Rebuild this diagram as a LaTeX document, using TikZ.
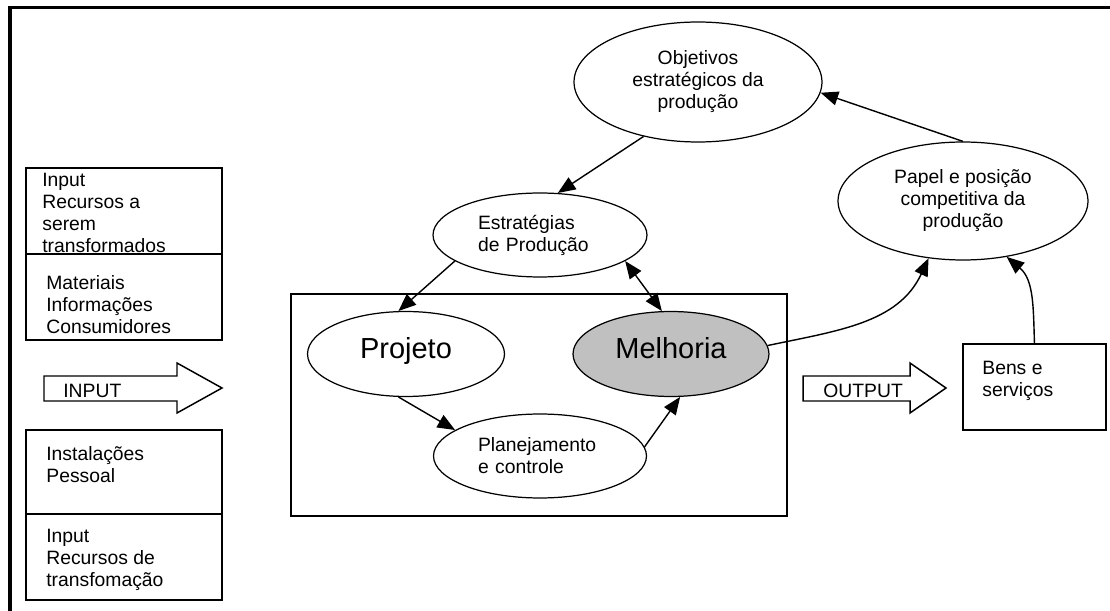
\documentclass[tikz,border=0pt]{standalone}
\usepackage{fontspec}
\setmainfont{Liberation Sans}
\usetikzlibrary{positioning, shapes.geometric, arrows.meta}
\definecolor{melgray}{HTML}{C0C0C0}

\begin{document}
\begin{tikzpicture}[
    x=0.02cm, y=-0.02cm,
    stage/.style={ellipse, draw, line width=0.7pt, inner sep=0pt, align=center, font=\fontsize{11}{12.5}\selectfont},
    bigstage/.style={stage, font=\fontsize{16.5}{19}\selectfont, text height=0.42cm, text depth=0.24cm},
    panel/.style={rectangle, draw, line width=1.3pt, inner sep=0pt, outer sep=0pt, minimum width=3.92cm},
    txt/.style={inner sep=0pt, align=left, anchor=north west, font=\fontsize{11}{12.5}\selectfont},
    conn/.style={line width=0.8pt, -{Triangle[length=10pt, width=8pt]}},
    biconn/.style={line width=0.8pt, {Triangle[length=10pt, width=8pt]}-{Triangle[length=10pt, width=8pt]}},
  ]
  \useasboundingbox (0,0) rectangle (1110,611);
  % frame, only top and left edges show
  \draw[line width=2pt] (10,611) -- (10,7.5) -- (1110,7.5);

  % input resources
  \node[panel, minimum height=1.72cm] (inA) at (124,211) {};
  \node[panel, minimum height=1.72cm, below=0pt of inA] (inB) {};
  \node[panel, minimum height=1.68cm] (inC) at (124,472) {};
  \node[panel, minimum height=1.72cm, below=0pt of inC] (inD) {};
  \node[txt, below right=0.1cm and 0.32cm of inA.north west] (tA) {Input\\Recursos a\\serem\\transformados};
  \node[txt, below right=0.42cm and 0.4cm of inB.north west] (tB) {Materiais\\Informações\\Consumidores};
  \node[txt, below right=0.32cm and 0.4cm of inC.north west] (tC) {Instalações\\Pessoal};
  \node[txt, below right=0.3cm and 0.4cm of inD.north west] (tD) {Input\\Recursos de\\transfomação};

  % block arrows
  \foreach \n/\xa/\xb/\xt/\lbl/\xl in {inarr/44/177/222/INPUT/63, outarr/803/910/946/OUTPUT/823} {
    \draw[line width=0.85pt] (\xa,376) -- (\xb,376) -- (\xb,363) -- (\xt,388) -- (\xb,413) -- (\xb,401) -- (\xa,401) -- cycle;
    \node[txt, anchor=west] (\n) at (\xl,390.5) {\lbl};
  }

  % production
  \node[panel, line width=1.2pt, minimum width=9.92cm, minimum height=4.44cm] (core) at (539,405) {};
  \node[stage, minimum width=4.96cm, minimum height=2.4cm] (obj) at (698,82) {Objetivos\\estratégicos da\\produção};
  \node[stage, minimum width=4.28cm, minimum height=1.68cm, text width=2.48cm, align=left] (est) at (540,235) {Estratégias\\de Produção};
  \node[stage, minimum width=5cm, minimum height=2.36cm] (pap) at (963,201) {Papel e posição\\competitiva da\\produção};
  \node[bigstage, minimum width=3.94cm, minimum height=1.7cm] (proj) at (406,354) {Projeto};
  \node[bigstage, fill=melgray, minimum width=3.92cm, minimum height=1.7cm] (mel) at (671,354) {Melhoria};
  \node[stage, minimum width=4.26cm, minimum height=1.68cm, text width=2.48cm, align=left] (plan) at (540,456) {Planejamento\\e controle};

  % output
  \node[panel, minimum width=2.86cm, minimum height=1.72cm] (bens) at (1034.5,387) {};
  \node[txt, below right=0.34cm and 0.38cm of bens.north west] (tbens) {Bens e\\serviços};

  % links
  \draw[conn] (obj.225) -- (est.67);
  \draw[conn] (est.197) -- (proj.100);
  \draw[biconn] (est.343) -- (mel.102);
  \draw[conn] (proj.260) -- (plan.163);
  \draw[conn] (plan.5) -- (mel.282);
  \draw[conn] (mel.5) to[out=12, in=245] (pap.239);
  \draw[conn] (bens.north) to[out=92, in=-40] (pap.308);
  \draw[conn] (pap.90) -- (obj.355);
\end{tikzpicture}
\end{document}
